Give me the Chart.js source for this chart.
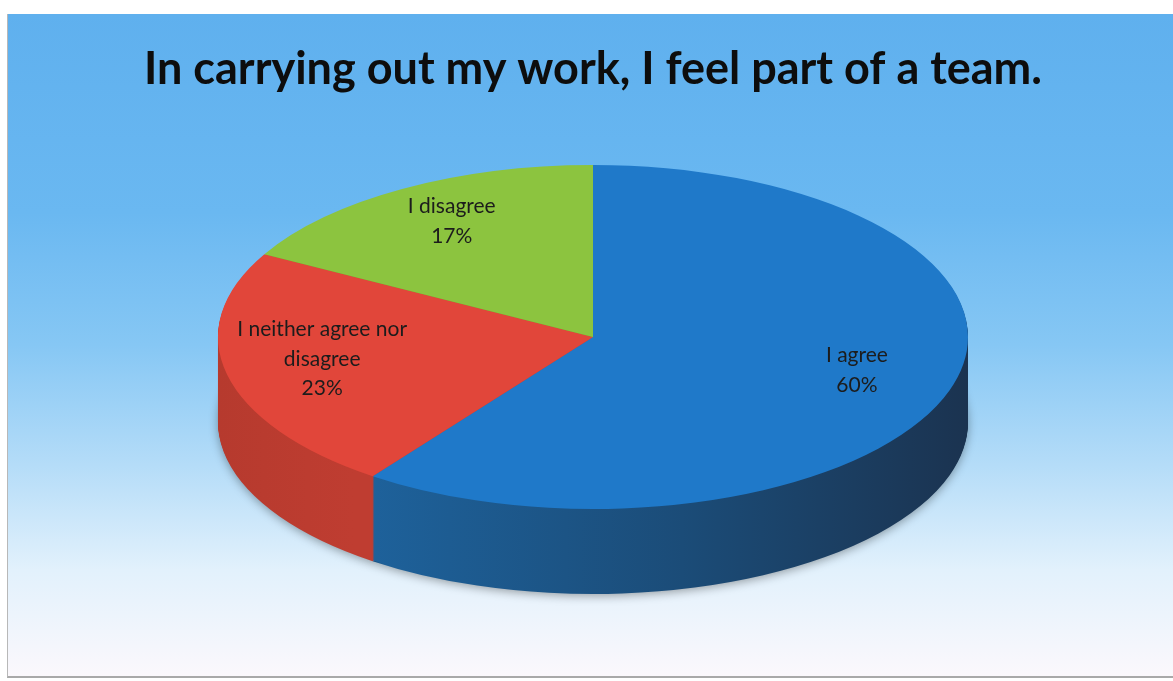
<!DOCTYPE html>
<html>
<head>
<meta charset="utf-8">
<script src="https://cdn.jsdelivr.net/npm/chart.js@4.4.1/dist/chart.umd.min.js"></script>
<style>
  html, body { margin: 0; padding: 0; background: #fff; }
  #frame {
    position: absolute; left: 7px; top: 14px; width: 1170px; height: 662px;
    border-left: 1px solid #b8b8b8; border-bottom: 2px solid #a9a9a9;
    background: linear-gradient(to bottom, #5fb0ee 0%, #6ab8f1 30%, #86c7f4 50%, #b4dcf8 68%, #e2f1fc 84%, #fbf8fc 100%);
  }
  #myChart { position: absolute; left: 0; top: 0; }
</style>
</head>
<body>
<div id="frame"></div>
<canvas id="myChart" width="1173" height="681"></canvas>
<script>
var titleText = "In carrying out my work, I feel part of a team."
var labels = ["I agree", "I neither agree nor disagree", "I disagree"]
var values = [60, 23, 17]

var topColors = ["#1f79c9", "#e1463a", "#8cc43f"]
var sideColors = ["#1d5d97", "#b73a2f", "#6f9a30"]

var tilt = 172 / 375   // vertical squash of the pie disc
var depth = 85         // thickness of the disc in px

function total() {
    var t = 0
    for (var i = 0; i < values.length; i++) t += values[i]
    return t
}

function squash(ctx, arc) {
    ctx.translate(arc.x, arc.y)
    ctx.scale(1, tilt)
    ctx.translate(-arc.x, -arc.y)
}

// draws the side wall by stacking darker copies of every slice under the top face
var pie3d = {
    id: "pie3d",
    beforeDatasetDraw: function(chart, args) {
        var ctx = chart.ctx
        var arcs = args.meta.data
        var first = arcs[0]
        var blueSide = ctx.createLinearGradient(first.x - 260, 0, first.x + first.outerRadius, 0)
        blueSide.addColorStop(0, "#1e649f")
        blueSide.addColorStop(0.55, "#1b4c78")
        blueSide.addColorStop(1, "#1b3350")
        var redSide = ctx.createLinearGradient(first.x - first.outerRadius, 0, first.x - 240, 0)
        redSide.addColorStop(0, "#b63a2e")
        redSide.addColorStop(1, "#bf3d31")

        for (var d = depth; d >= 1; d--) {
            ctx.save()
            if (d == depth) {
                ctx.shadowColor = "rgba(0,0,0,0.35)"
                ctx.shadowBlur = 10
                ctx.shadowOffsetY = 2
            }
            ctx.translate(0, d)
            squash(ctx, first)
            for (var i = 0; i < arcs.length; i++) {
                var el = arcs[i]
                var keep = el.options
                var fill = sideColors[i]
                if (i == 0) fill = blueSide
                if (i == 1) fill = redSide
                el.options = Object.assign({}, keep, {backgroundColor: fill, borderWidth: 0})
                el.draw(ctx)
                el.options = keep
            }
            ctx.restore()
        }
        ctx.save()
        squash(ctx, first)
    },
    afterDatasetDraw: function(chart) {
        chart.ctx.restore()
    },
    afterDatasetsDraw: function(chart) {
        var ctx = chart.ctx
        var arcs = chart.getDatasetMeta(0).data
        var sum = total()
        ctx.save()
        ctx.font = "21px Lato"
        ctx.fillStyle = "#1c1c1c"
        ctx.textAlign = "center"
        ctx.textBaseline = "middle"
        for (var i = 0; i < arcs.length; i++) {
            var el = arcs[i]
            var mid = (el.startAngle + el.endAngle) / 2
            var r = el.outerRadius * 0.74
            var x = el.x + Math.cos(mid) * r
            var y = el.y + Math.sin(mid) * r * tilt
            var lines = wrap(ctx, labels[i], 200)
            lines.push(Math.round(values[i] / sum * 100) + "%")
            var lh = 29.5
            var y0 = y - (lines.length - 1) * lh / 2 - 6
            for (var j = 0; j < lines.length; j++) {
                ctx.fillText(lines[j], x, y0 + j * lh)
            }
        }
        ctx.restore()
    }
}

function wrap(ctx, text, maxWidth) {
    var words = text.split(" ")
    var lines = []
    var line = ""
    for (var i = 0; i < words.length; i++) {
        var test = line ? line + " " + words[i] : words[i]
        if (ctx.measureText(test).width > maxWidth && line) {
            lines.push(line)
            line = words[i]
        } else {
            line = test
        }
    }
    lines.push(line)
    return lines
}

var chart = new Chart("myChart", {
    type: "pie",
    data: {
        labels: labels,
        datasets: [{
            data: values,
            backgroundColor: topColors,
            borderWidth: 0,
            radius: 375,
            clip: false
        }]
    },
    options: {
        responsive: false,
        animation: false,
        events: [],
        layout: { padding: { left: 13, right: 0, top: 0, bottom: 113 } },
        plugins: {
            legend: { display: false },
            tooltip: { enabled: false },
            title: {
                display: true,
                text: titleText,
                color: "#0d0d0d",
                font: { family: "Lato", size: 45, weight: "bold", lineHeight: 1.1 },
                padding: { top: 45, bottom: 11.5 }
            }
        }
    },
    plugins: [pie3d]
});
</script>
</body>
</html>
